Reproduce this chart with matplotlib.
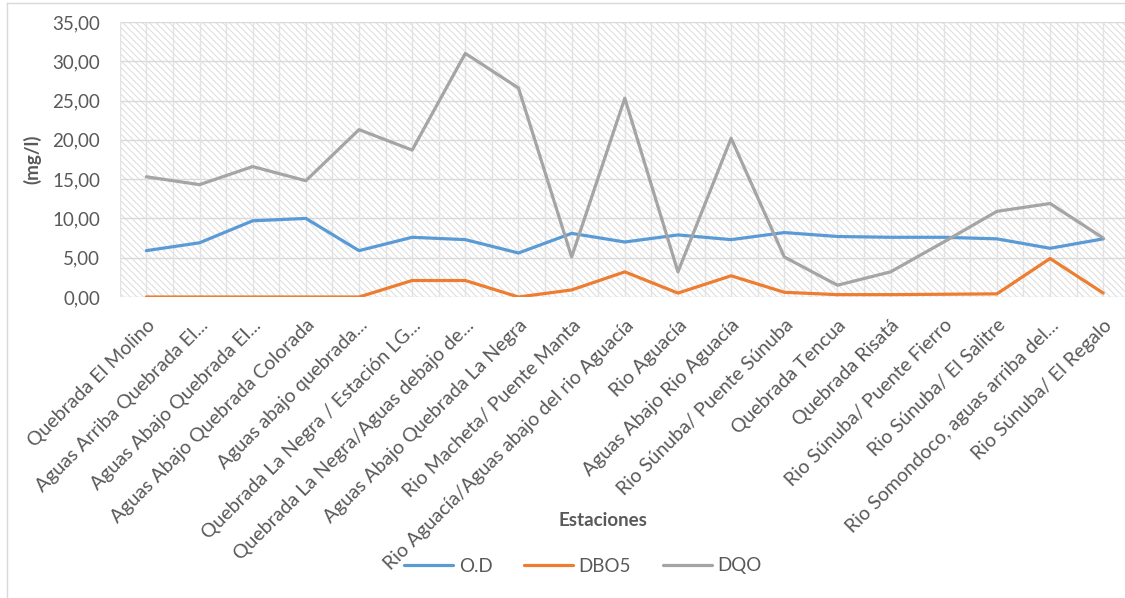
import matplotlib
matplotlib.use("Agg")
import matplotlib.pyplot as plt
from matplotlib.patches import Rectangle
from matplotlib.lines import Line2D
from matplotlib.ticker import FuncFormatter

plt.rcParams['font.family'] = ['Lato', 'DejaVu Sans']
plt.rcParams['hatch.color'] = '#dcdcdc'
plt.rcParams['hatch.linewidth'] = 0.7

estaciones = [
    "Quebrada El Molino",
    "Aguas Arriba Quebrada El...",
    "Aguas Abajo Quebrada El...",
    "Aguas Abajo Quebrada Colorada",
    "Aguas abajo quebrada...",
    "Quebrada La Negra / Estación LG...",
    "Quebrada La Negra/Aguas debajo de...",
    "Aguas Abajo Quebrada La Negra",
    "Rio Macheta/ Puente Manta",
    "Rio Aguacía/Aguas abajo del rio Aguacía",
    "Rio Aguacía",
    "Aguas Abajo Rio Aguacía",
    "Rio Súnuba/ Puente Súnuba",
    "Quebrada Tencua",
    "Quebrada Risatá",
    "Rio Súnuba/ Puente Fierro",
    "Rio Súnuba/ El Salitre",
    "Rio Somondoco, aguas arriba del...",
    "Rio Súnuba/ El Regalo",
]

od = [5.9, 6.9, 9.7, 10.0, 5.9, 7.6, 7.3, 5.6, 8.1, 7.0, 7.9, 7.3, 8.2, 7.7, 7.6, 7.6, 7.4, 6.2, 7.4]
dbo5 = [0.0, 0.0, 0.0, 0.0, 0.0, 2.1, 2.1, 0.0, 0.9, 3.2, 0.5, 2.7, 0.6, 0.3, 0.3, 0.35, 0.4, 4.9, 0.5]
dqo = [15.3, 14.3, 16.6, 14.8, 21.3, 18.7, 31.0, 26.6, 5.1, 25.3, 3.2, 20.2, 5.1, 1.5, 3.2, 7.0, 10.9, 11.9, 7.5]

W, H = 1125, 598
fig = plt.figure(figsize=(W / 100, H / 100), dpi=100)
ax = fig.add_axes([119.8 / W, 1 - 297 / H, 1010 / W, 275 / H])

n = len(estaciones)
x = list(range(n))
ax.set_xlim(-0.5, n - 0.5)
ax.set_ylim(0, 35)

# hatched background
ax.add_patch(Rectangle((0, 0), 1, 1, transform=ax.transAxes, facecolor='white',
                       hatch='\\\\\\\\\\', edgecolor='#dcdcdc', linewidth=0, zorder=0))

# grid: horizontal every 5, vertical every half category
for yv in range(0, 36, 5):
    ax.axhline(yv, color='#d9d9d9', lw=1.0, zorder=1)
for i in range(2 * n + 1):
    ax.axvline(-0.5 + i * 0.5, color='#e2e2e2', lw=1.0, zorder=1)

ax.plot(x, od, color='#5b9bd5', lw=2.3, label='O.D', zorder=3, solid_capstyle='round')
ax.plot(x, dbo5, color='#ed7d31', lw=2.3, label='DBO5', zorder=3, solid_capstyle='round')
ax.plot(x, dqo, color='#a5a5a5', lw=2.3, label='DQO', zorder=3, solid_capstyle='round')

for s in ax.spines.values():
    s.set_visible(False)

ax.set_yticks(range(0, 36, 5))
ax.yaxis.set_major_formatter(FuncFormatter(lambda v, p: f"{v:.2f}".replace('.', ',')))
ax.tick_params(axis='y', length=0, labelsize=13.5, labelcolor='#595959', pad=14)
ax.set_xticks(x)
ax.set_xticklabels(estaciones, rotation=45, ha='right', rotation_mode='anchor',
                   fontsize=14, color='#595959')
ax.tick_params(axis='x', length=0, pad=14)

ax.set_ylabel('(mg/l)', fontsize=13.5, fontweight='bold', color='#595959', labelpad=8)
fig.text(603 / W, 1 - 520 / H, 'Estaciones', ha='center', va='center',
         fontsize=13.5, fontweight='bold', color='#595959')

leg = fig.legend(loc='center', bbox_to_anchor=(583 / W, 1 - 566 / H), ncol=3,
                 frameon=False, fontsize=13.5, handlelength=2.6, columnspacing=1.7,
                 handletextpad=0.3)
for t in leg.get_texts():
    t.set_color('#595959')

# outer chart border
fig.add_artist(Line2D([7 / W, 1], [1 - 3 / H, 1 - 3 / H], color='#d9d9d9', lw=1))
fig.add_artist(Line2D([7 / W, 7 / W], [0, 1 - 3 / H], color='#d9d9d9', lw=1))

fig.savefig('out.png', dpi=100)
